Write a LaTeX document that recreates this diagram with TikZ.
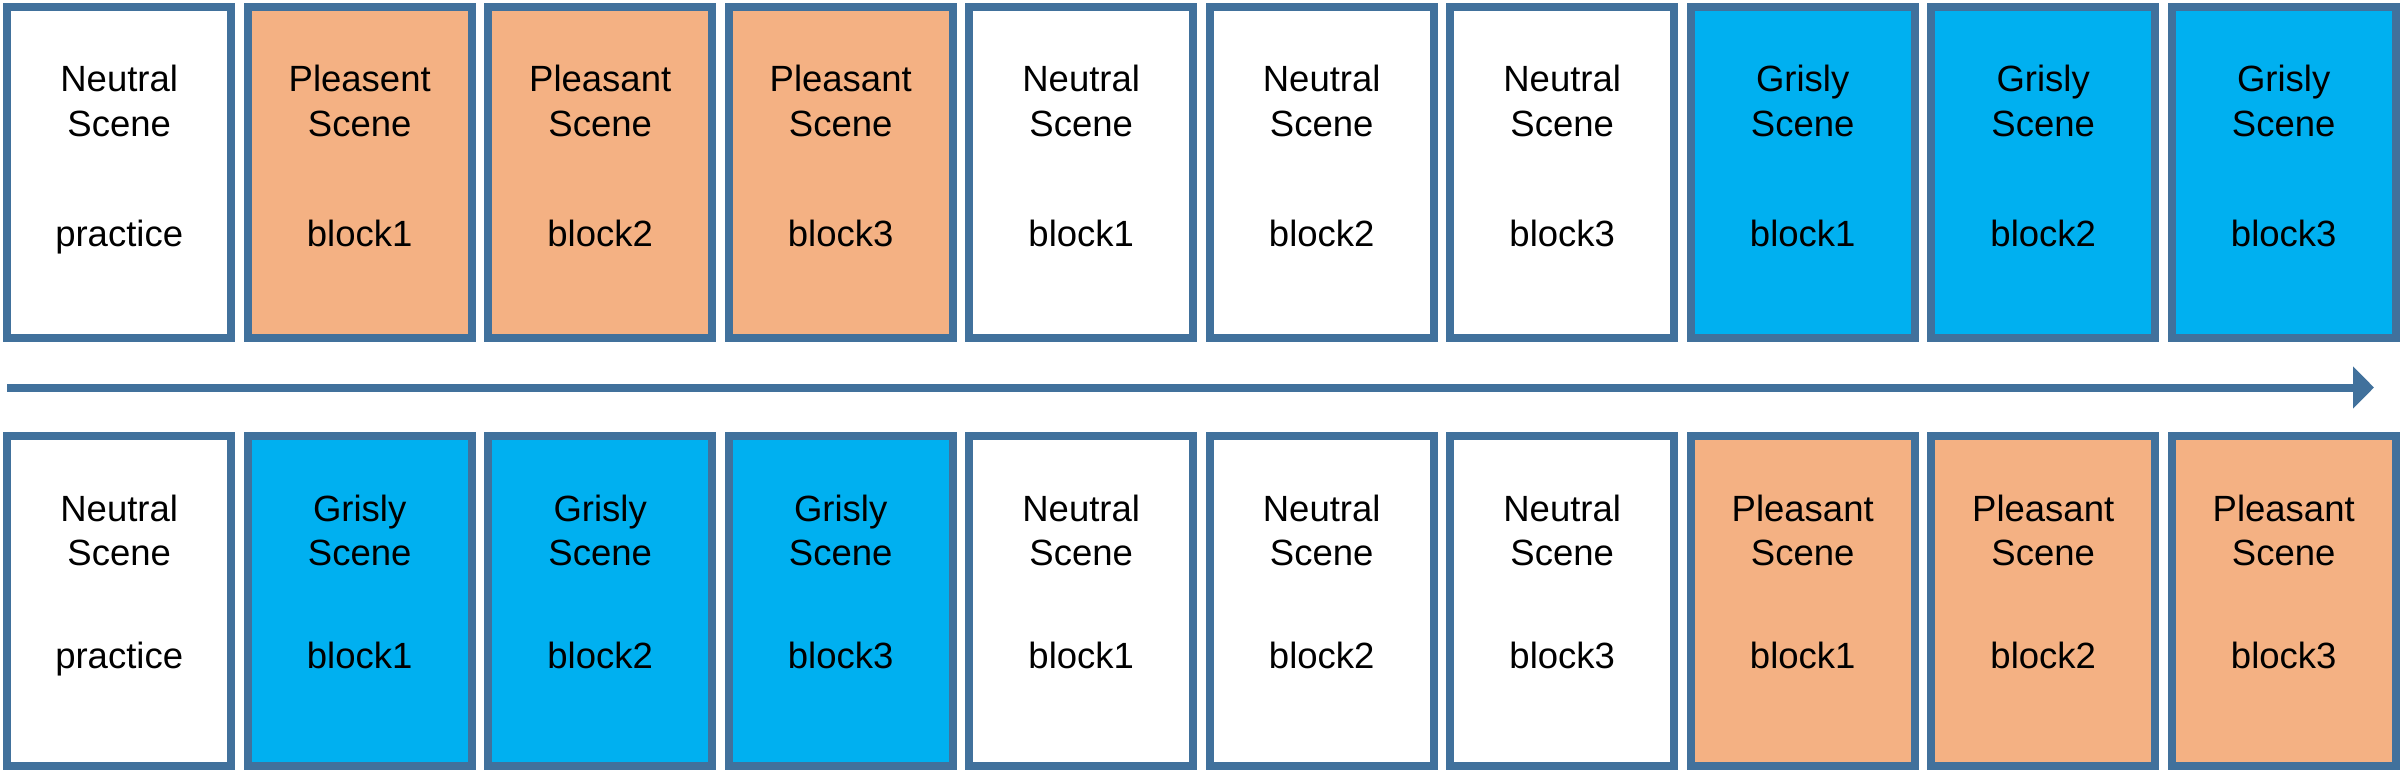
\documentclass[tikz,border=0pt]{standalone}
\usepackage{fontspec}
\setmainfont{Liberation Sans}
\usetikzlibrary{arrows.meta}
\definecolor{edgeblue}{HTML}{41719C}
\definecolor{orangefill}{HTML}{F4B183}
\definecolor{bluefill}{HTML}{00B0F0}
\tikzset{
  stage/.style={draw=edgeblue, line width=8pt, minimum width=224pt, minimum height=330.7pt, inner sep=0pt},
  lbl/.style={anchor=base, inner sep=0pt, font=\fontsize{36.5}{44}\selectfont},
  timeline/.style={draw=edgeblue, line width=8pt, -{Triangle[length=21pt,width=41pt]}}
}
\begin{document}
\begin{tikzpicture}[x=1pt,y=-1pt]
\path[fill=white] (0,0) rectangle (2404,774);
\useasboundingbox (0,0) rectangle (2404,774);
% top row
\foreach \i/\f/\a/\c in {0/white/Neutral/practice,1/orangefill/Pleasent/block1,2/orangefill/Pleasant/block2,3/orangefill/Pleasant/block3,4/white/Neutral/block1,5/white/Neutral/block2,6/white/Neutral/block3,7/bluefill/Grisly/block1,8/bluefill/Grisly/block2,9/bluefill/Grisly/block3}{
  \pgfmathsetmacro{\xc}{119.2+240.5*\i}
  \node[stage, fill=\f] (top\i) at (\xc,172.7) {};
  \node[lbl] (topa\i) at (\xc,91.7) {\a};
  \node[lbl] (topb\i) at (\xc,136) {Scene};
  \node[lbl] (topc\i) at (\xc,246.7) {\c};
}
% bottom row
\foreach \i/\f/\a/\c in {0/white/Neutral/practice,1/bluefill/Grisly/block1,2/bluefill/Grisly/block2,3/bluefill/Grisly/block3,4/white/Neutral/block1,5/white/Neutral/block2,6/white/Neutral/block3,7/orangefill/Pleasant/block1,8/orangefill/Pleasant/block2,9/orangefill/Pleasant/block3}{
  \pgfmathsetmacro{\xc}{119.2+240.5*\i}
  \node[stage, fill=\f] (bot\i) at (\xc,601) {};
  \node[lbl] (bota\i) at (\xc,521.7) {\a};
  \node[lbl] (botb\i) at (\xc,565) {Scene};
  \node[lbl] (botc\i) at (\xc,668.3) {\c};
}
\coordinate (tstart) at (7,387.5);
\coordinate (tend) at (2374,387.5);
\draw[timeline] (tstart) -- (tend);
\end{tikzpicture}
\end{document}
